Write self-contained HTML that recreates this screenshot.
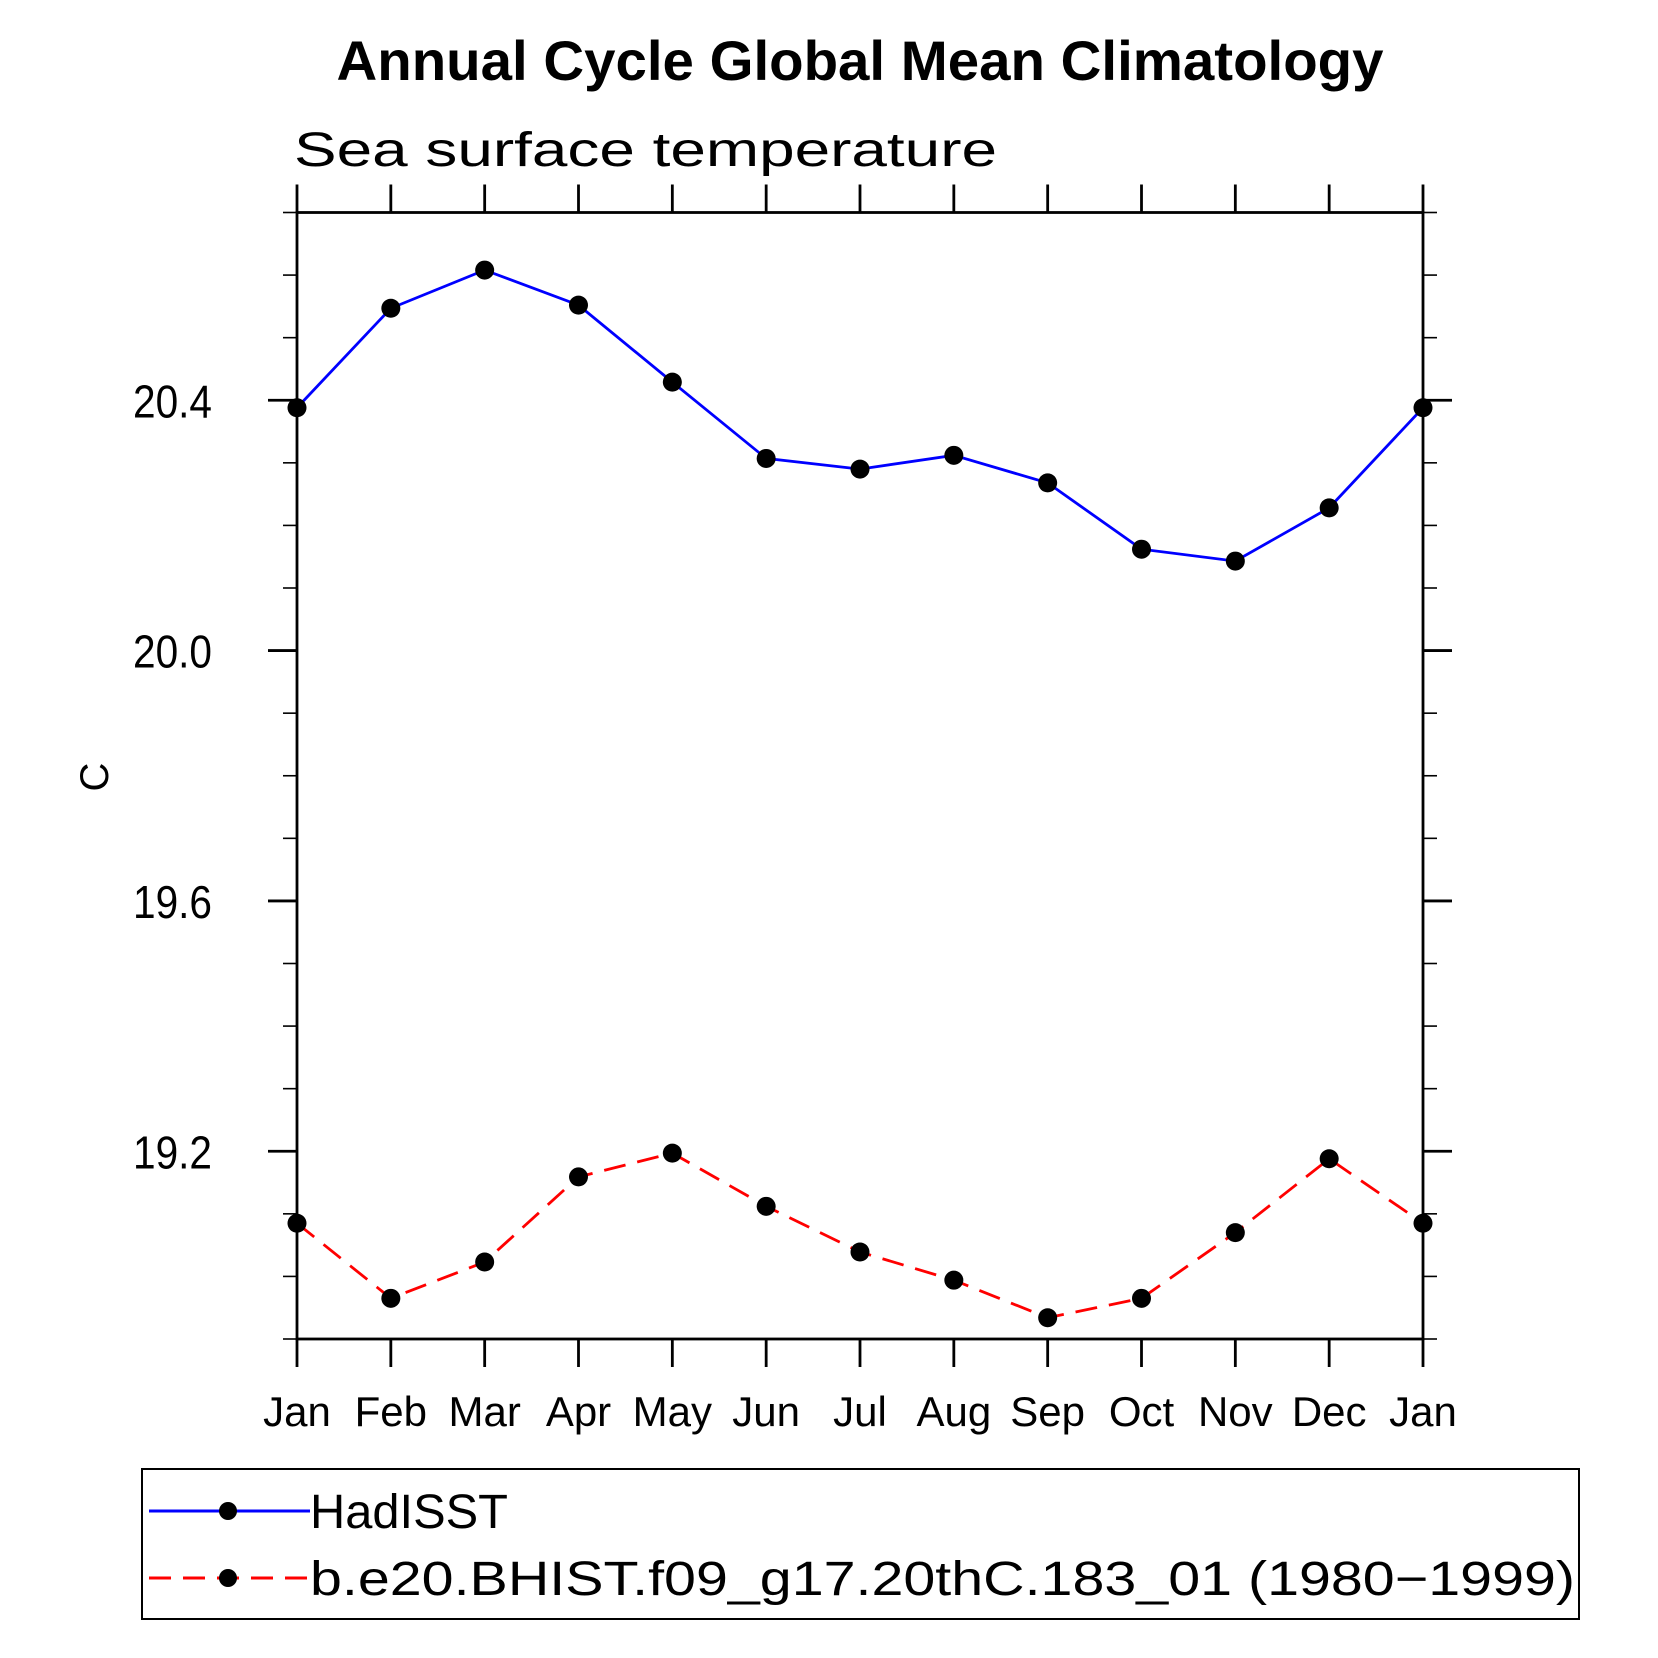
<!DOCTYPE html>
<html><head><meta charset="utf-8"><style>html,body{margin:0;padding:0;background:#fff}svg{display:block}</style></head>
<body>
<svg id="chart" width="1658" height="1658" viewBox="0 0 1658 1658" xmlns="http://www.w3.org/2000/svg" font-family="'Liberation Sans', sans-serif">
<text x="860" y="80" font-size="56" font-weight="bold" text-anchor="middle" textLength="1047" lengthAdjust="spacingAndGlyphs">Annual Cycle Global Mean Climatology</text>
<text x="294" y="166" font-size="48" textLength="703" lengthAdjust="spacingAndGlyphs">Sea surface temperature</text>
<text transform="translate(108,777) rotate(-90)" font-size="40" text-anchor="middle">C</text>
<g id="axes"></g>
<g id="series"></g>
<g>
<rect x="142" y="1469" width="1437" height="150" fill="none" stroke="#000" stroke-width="2"/>
<g>
<line x1="149" y1="1511" x2="310" y2="1511" stroke="#00f" stroke-width="3"/>
<circle cx="228" cy="1511" r="9" fill="#000"/>
<text x="310" y="1528" font-size="48" textLength="198" lengthAdjust="spacingAndGlyphs">HadISST</text>
</g>
<g>
<line x1="149" y1="1578" x2="310" y2="1578" stroke="#f00" stroke-width="3" stroke-dasharray="22,12"/>
<circle cx="228" cy="1578" r="9" fill="#000"/>
<text x="310" y="1595" font-size="48" textLength="1265" lengthAdjust="spacingAndGlyphs">b.e20.BHIST.f09_g17.20thC.183_01 (1980−1999)</text>
</g>
</g>
</svg>
<script>
const months = ["Jan","Feb","Mar","Apr","May","Jun","Jul","Aug","Sep","Oct","Nov","Dec","Jan"];
const hadisst = [20.388,20.547,20.608,20.552,20.429,20.307,20.290,20.312,20.268,20.162,20.143,20.228,20.388];
const model = [19.085,18.965,19.023,19.159,19.197,19.112,19.039,18.994,18.934,18.965,19.070,19.188,19.085];
const yTicks = [19.2,19.6,20.0,20.4];
const yTickLabels = ["19.2","19.6","20.0","20.4"];
const yMin = 18.9, yMax = 20.7;

const NS="http://www.w3.org/2000/svg";
const L=297,R=1423,T=212.5,B=1339;
const xs=i=>L+(R-L)*i/(months.length-1);
const ys=v=>B-(B-T)*(v-yMin)/(yMax-yMin);
function mk(tag,attrs,parent){const e=document.createElementNS(NS,tag);for(const k in attrs)e.setAttribute(k,attrs[k]);parent.appendChild(e);return e;}
const ax=document.getElementById('axes');
const frame=mk('rect',{x:L,y:T,width:R-L,height:B-T,fill:'none',stroke:'#000','stroke-width':2.8},ax);


months.forEach((m,i)=>{
  const x=xs(i);
  const t1=mk('line',{x1:x,y1:B,x2:x,y2:B+28,stroke:'#000','stroke-width':2.8},ax);
  
  
  const t2=mk('line',{x1:x,y1:T,x2:x,y2:T-28,stroke:'#000','stroke-width':2.8},ax);
  
  
  const lb=mk('text',{x:x,y:1426,'font-size':42,'text-anchor':'middle'},ax);
  lb.textContent=m;
  
  
});
for(let k=0;k<=Math.round((yMax-yMin)*10);k++){
  const v=yMin+k*0.1;
  const major=yTicks.some(t=>Math.abs(t-v)<1e-6);
  const len=major?29:14;
  const y=ys(v);
  const a=mk('line',{x1:L-len,y1:y,x2:L,y2:y,stroke:'#000','stroke-width':major?2.8:1.6},ax);
  
  
  const b=mk('line',{x1:R,y1:y,x2:R+len,y2:y,stroke:'#000','stroke-width':major?2.8:1.6},ax);
  
  
}
yTicks.forEach((v,i)=>{
  const lb=mk('text',{x:133,y:ys(v)+17,'font-size':46,textLength:79,lengthAdjust:'spacingAndGlyphs'},ax);
  lb.textContent=yTickLabels[i];
  
  
});
const sg=document.getElementById('series');
function drawSeries(vals,color,dash,name){
  const pts=vals.map((v,i)=>xs(i)+','+ys(v)).join(' ');
  const pl=mk('polyline',{points:pts,fill:'none',stroke:color,'stroke-width':2.8},sg);
  if(dash)pl.setAttribute('stroke-dasharray',dash);
  
  
  vals.forEach((v,i)=>{
    const c=mk('circle',{cx:xs(i),cy:ys(v),r:9.5,fill:'#000'},sg);
    
    
  });
}
drawSeries(hadisst,'#00f',null,'hadisst');
drawSeries(model,'#f00','22,12','model');
</script>
</body></html>
